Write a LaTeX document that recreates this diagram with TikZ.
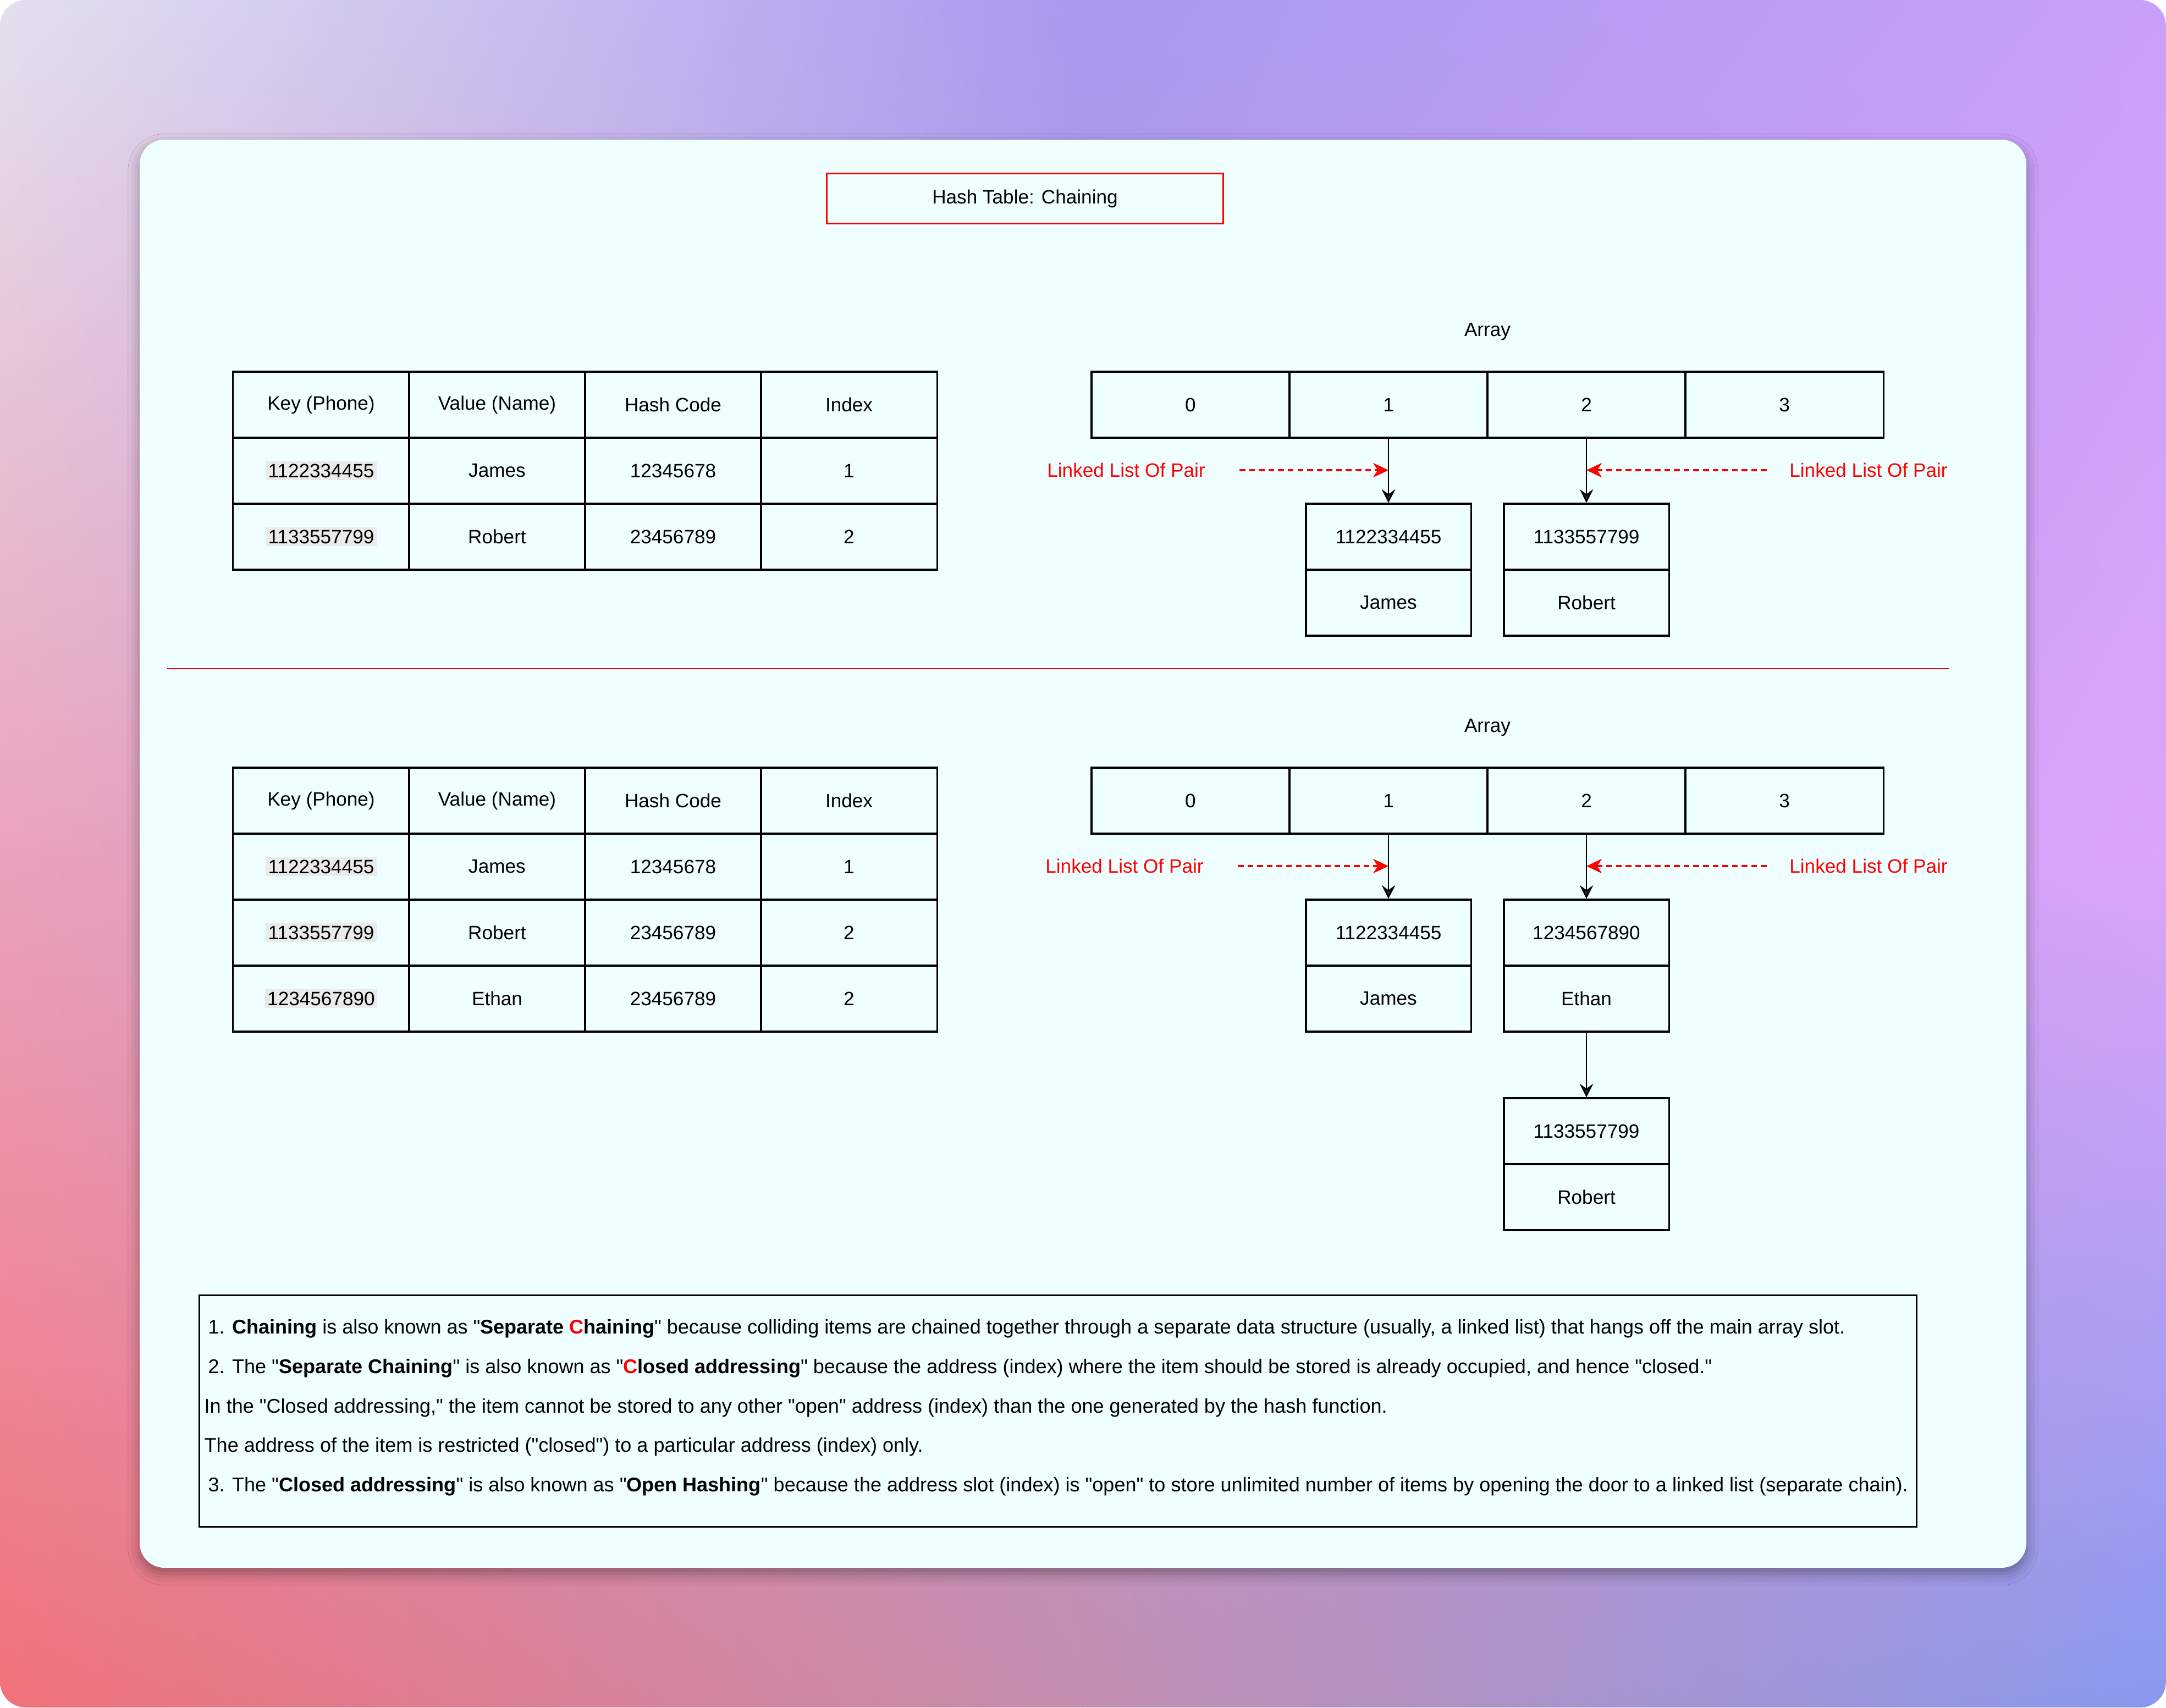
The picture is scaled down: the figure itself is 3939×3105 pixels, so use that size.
\documentclass[tikz,border=0pt]{standalone}
\usepackage{fontspec}
\setmainfont{Liberation Sans}[Ligatures=TeXOff]
\usepackage{xcolor}
\usepackage{tikz}
\usetikzlibrary{arrows.meta,shadings,shadows.blur}
\definecolor{cardcyan}{RGB}{239,254,254}
\definecolor{keygray}{RGB}{234,234,234}
\definecolor{bgtl}{RGB}{227,224,238}
\definecolor{bgtm}{RGB}{168,152,240}
\definecolor{bgtr}{RGB}{200,160,250}
\definecolor{bgml}{RGB}{234,162,188}
\definecolor{bgmc}{RGB}{186,154,218}
\definecolor{bgmr}{RGB}{220,164,250}
\definecolor{bgbl}{RGB}{240,113,122}
\definecolor{bgbm}{RGB}{196,143,176}
\definecolor{bgbr}{RGB}{136,153,238}
\newcommand{\dfont}{\fontsize{10}{12}\selectfont}
\newcommand{\nfont}{\fontsize{10.25}{12}\selectfont}
\newcommand{\keytxt}[1]{{\setlength{\fboxsep}{1.2pt}\colorbox{keygray}{#1}}}
\tikzset{
  titlebox/.style={draw=red, line width=0.8pt, minimum width=7.21cm, minimum height=0.91cm, font=\dfont},
  cell/.style={draw=black, line width=0.9pt, minimum width=3.2cm, minimum height=1.2cm, inner sep=0pt, font=\dfont},
  slot/.style={cell, minimum width=3.6cm},
  pairbox/.style={cell, minimum width=3.0cm},
  plain/.style={font=\dfont},
  lltext/.style={font=\dfont, text=red},
  chain/.style={-{Stealth[length=7pt,width=7pt,inset=2.5pt]}, line width=0.8pt},
  llarrow/.style={-{Stealth[length=8pt,width=7.5pt,inset=2.5pt]}, red, line width=0.9pt, dash pattern=on 3pt off 2pt},
  notebox/.style={draw=black, line width=0.9pt, minimum width=31.21cm, minimum height=4.2cm},
  noteline/.style={anchor=base west, inner sep=0pt, font=\nfont}
}
\begin{document}
\begin{tikzpicture}[x=0.01cm, y=-0.01cm]
  \useasboundingbox (0,0) rectangle (3939,3105);
  % backdrop
  \begin{scope}
    \clip[rounded corners=0.47cm] (0,0) rectangle (3939,3105);
    \shade[upper left=bgtl, upper right=bgtm, lower left=bgml, lower right=bgmc] (0,0) rectangle (1972,1554);
    \shade[upper left=bgtm, upper right=bgtr, lower left=bgmc, lower right=bgmr] (1968,0) rectangle (3939,1554);
    \shade[upper left=bgml, upper right=bgmc, lower left=bgbl, lower right=bgbm] (0,1550) rectangle (1972,3105);
    \shade[upper left=bgmc, upper right=bgmr, lower left=bgbm, lower right=bgbr] (1968,1550) rectangle (3939,3105);
  \end{scope}
  \fill[cardcyan, rounded corners=0.45cm, blur shadow={shadow xshift=0pt, shadow yshift=-3pt, shadow blur radius=6pt, shadow opacity=35}] (254,254) rectangle (3685,2851);
  \node[titlebox] (title) at (1864,361) {Hash Table: Chaining};

  % first table and its chains
  \node[cell] (h1) at (584,736) {Key (Phone)};
  \node[cell] (h2) at (904,736) {Value (Name)};
  \node[cell] (h3) at (1224,736) {Hash Code};
  \node[cell] (h4) at (1544,736) {Index};
  \node[cell] (k1) at (584,856) {\keytxt{1122334455}};
  \node[cell] (v1) at (904,856) {James};
  \node[cell] (c1) at (1224,856) {12345678};
  \node[cell] (i1) at (1544,856) {1};
  \node[cell] (k2) at (584,976) {\keytxt{1133557799}};
  \node[cell] (v2) at (904,976) {Robert};
  \node[cell] (c2) at (1224,976) {23456789};
  \node[cell] (i2) at (1544,976) {2};

  \node[plain] (arr) at (2705,603) {Array};
  \node[slot] (s0) at (2165,736) {0};
  \node[slot] (s1) at (2525,736) {1};
  \node[slot] (s2) at (2885,736) {2};
  \node[slot] (s3) at (3245,736) {3};
  \node[pairbox] (pk1) at (2525,976) {1122334455};
  \node[pairbox] (pv1) at (2525,1096) {James};
  \node[pairbox] (pk2) at (2885,976) {1133557799};
  \node[pairbox] (pv2) at (2885,1096) {Robert};
  \draw[chain] (s1)--(pk1);
  \draw[chain] (s2)--(pk2);
  \node[lltext] (ll) at (2048,855) {Linked List Of Pair};
  \node[lltext] (lr) at (3398,855) {Linked List Of Pair};
  \coordinate (lls) at (2254,855);
  \coordinate (llt) at (2525,855);
  \coordinate (lrs) at (3213,855);
  \coordinate (lrt) at (2885,855);
  \draw[llarrow] (lls)--(llt);
  \draw[llarrow] (lrs)--(lrt);

  \draw[red, line width=0.6pt] (304,1216)--(3544,1216);

  % second table: a collision on index 2
  \begin{scope}[shift={(0,720)}]
    \node[cell] (hb1) at (584,736) {Key (Phone)};
    \node[cell] (hb2) at (904,736) {Value (Name)};
    \node[cell] (hb3) at (1224,736) {Hash Code};
    \node[cell] (hb4) at (1544,736) {Index};
    \node[cell] (kb1) at (584,856) {\keytxt{1122334455}};
    \node[cell] (vb1) at (904,856) {James};
    \node[cell] (cb1) at (1224,856) {12345678};
    \node[cell] (ib1) at (1544,856) {1};
    \node[cell] (kb2) at (584,976) {\keytxt{1133557799}};
    \node[cell] (vb2) at (904,976) {Robert};
    \node[cell] (cb2) at (1224,976) {23456789};
    \node[cell] (ib2) at (1544,976) {2};
    \node[cell] (kb3) at (584,1096) {\keytxt{1234567890}};
    \node[cell] (vb3) at (904,1096) {Ethan};
    \node[cell] (cb3) at (1224,1096) {23456789};
    \node[cell] (ib3) at (1544,1096) {2};

    \node[plain] (arrb) at (2705,603) {Array};
    \node[slot] (sb0) at (2165,736) {0};
    \node[slot] (sb1) at (2525,736) {1};
    \node[slot] (sb2) at (2885,736) {2};
    \node[slot] (sb3) at (3245,736) {3};
    \node[pairbox] (qk1) at (2525,976) {1122334455};
    \node[pairbox] (qv1) at (2525,1096) {James};
    \node[pairbox] (qk2) at (2885,976) {1234567890};
    \node[pairbox] (qv2) at (2885,1096) {Ethan};
    \node[pairbox] (qk3) at (2885,1337) {1133557799};
    \node[pairbox] (qv3) at (2885,1457) {Robert};
    \draw[chain] (sb1)--(qk1);
    \draw[chain] (sb2)--(qk2);
    \draw[chain] (qv2)--(qk3);
    \node[lltext] (llb) at (2045,855) {Linked List Of Pair};
    \node[lltext] (lrb) at (3398,855) {Linked List Of Pair};
    \coordinate (llbs) at (2251,855);
    \coordinate (llbt) at (2525,855);
    \coordinate (lrbs) at (3213,855);
    \coordinate (lrbt) at (2885,855);
    \draw[llarrow] (llbs)--(llbt);
    \draw[llarrow] (lrbs)--(lrbt);
  \end{scope}

  % notes
  \node[notebox] (notes) at (1924,2566) {};
  \node[noteline] (n1) at (378,2425) {1. \textbf{Chaining} is also known as "\textbf{Separate \textcolor{red}{C}haining}" because colliding items are chained together through a separate data structure (usually, a linked list) that hangs off the main array slot.};
  \node[noteline] (n2) at (378,2497) {2. The "\textbf{Separate Chaining}" is also known as "\textbf{\textcolor{red}{C}losed addressing}" because the address (index) where the item should be stored is already occupied, and hence "closed."};
  \node[noteline] (n3) at (371,2569) {In the "Closed addressing," the item cannot be stored to any other "open" address (index) than the one generated by the hash function.};
  \node[noteline] (n4) at (371,2640) {The address of the item is restricted ("closed") to a particular address (index) only.};
  \node[noteline] (n5) at (378,2712) {3. The "\textbf{Closed addressing}" is also known as "\textbf{Open Hashing}" because the address slot (index) is "open" to store unlimited number of items by opening the door to a linked list (separate chain).};
\end{tikzpicture}
\end{document}
